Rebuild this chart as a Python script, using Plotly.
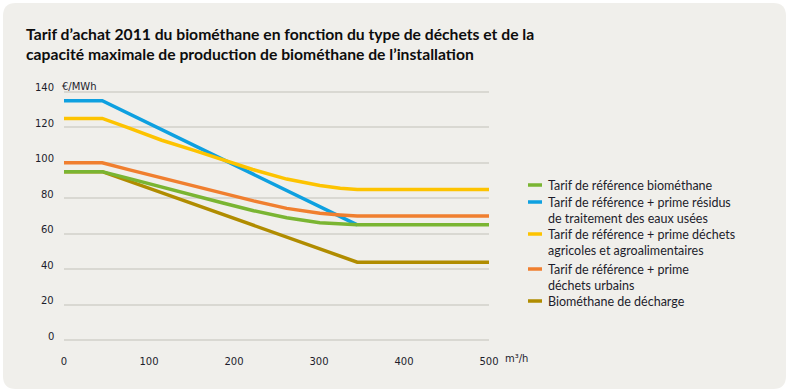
import plotly.graph_objects as go

# ---- data ----
series_names = [
    "Tarif de référence biométhane",
    "Tarif de référence + prime résidus<br>de traitement des eaux usées",
    "Tarif de référence + prime déchets<br>agricoles et agroalimentaires",
    "Tarif de référence + prime<br>déchets urbains",
    "Biométhane de décharge",
]
series_colors = ["#7ab532", "#0ea0e0", "#fdc300", "#f07f2f", "#b08c00"]

x_green = [0, 45, 76, 115, 154, 187, 223, 262, 301, 325, 345, 500]
y_green = [95, 95, 91.2, 86.2, 81.5, 77.3, 73, 69, 66.2, 65.4, 65, 65]

x_blue = [0, 45, 345]
y_blue = [135, 135, 65]

x_yellow = [0, 45, 76, 115, 154, 190, 222, 262, 301, 325, 345, 500]
y_yellow = [125, 125, 119.6, 112.7, 106.8, 101.3, 96.2, 90.8, 87.2, 85.7, 85, 85]

x_orange = [0, 45, 76, 115, 154, 185, 223, 262, 301, 325, 345, 500]
y_orange = [100, 100, 96.1, 91.3, 86.9, 83, 78.5, 74.3, 71.5, 70.6, 70, 70]

x_brown = [0, 45, 345, 500]
y_brown = [95, 95, 44, 44]

x_ticks = [0, 100, 200, 300, 400, 500]
y_ticks = [0, 20, 40, 60, 80, 100, 120, 140]

title_text = ("Tarif d’achat 2011 du biométhane en fonction du type de déchets et de la<br>"
              "capacité maximale de production de biométhane de l’installation")
y_unit = "€/MWh"
x_unit = "m³/h"

# ---- layout geometry ----
W, H = 791, 390
PL, PR, PT, PB = 64, 489, 90, 342   # plot area pixel bounds (y range -1..141)
Y0, Y1 = -1, 141


def px_x(p):
    return (p - PL) / (PR - PL)


def px_y(p):
    return (PB - p) / (PB - PT)


fig = go.Figure()
order = [1, 2, 3, 4, 0]
xs = [x_green, x_blue, x_yellow, x_orange, x_brown]
ys = [y_green, y_blue, y_yellow, y_orange, y_brown]
for i in order:
    fig.add_trace(go.Scatter(x=xs[i], y=ys[i], mode="lines", name=series_names[i],
                             showlegend=False,
                             line=dict(color=series_colors[i], width=3.5),
                             hoverinfo="skip"))

# rounded panel background
x0, x1, y0, y1, r = 3, 786, 3, 389, 13
path = (
    f"M {px_x(x0 + r)} {px_y(y0)} L {px_x(x1 - r)} {px_y(y0)} "
    f"Q {px_x(x1)} {px_y(y0)} {px_x(x1)} {px_y(y0 + r)} "
    f"L {px_x(x1)} {px_y(y1 - r)} Q {px_x(x1)} {px_y(y1)} {px_x(x1 - r)} {px_y(y1)} "
    f"L {px_x(x0 + r)} {px_y(y1)} Q {px_x(x0)} {px_y(y1)} {px_x(x0)} {px_y(y1 - r)} "
    f"L {px_x(x0)} {px_y(y0 + r)} Q {px_x(x0)} {px_y(y0)} {px_x(x0 + r)} {px_y(y0)} Z"
)
shapes = [dict(type="path", path=path, xref="paper", yref="paper",
               fillcolor="#f0efeb", line=dict(width=0), layer="below")]

tick_font = dict(family="DejaVu Sans", size=10, color="#1d1d2b")
legend_font = dict(family="Lato", size=12.5, color="#1d1d2b")

annotations = []
for v in y_ticks:
    annotations.append(dict(x=0, y=v, xref="x", yref="y", text=str(v), showarrow=False,
                            xanchor="right", yanchor="middle", xshift=-8, yshift=4,
                            font=tick_font))
annotations.append(dict(x=px_x(60), y=140, xref="paper", yref="y", text=y_unit,
                        showarrow=False, xanchor="left", yanchor="middle", yshift=5,
                        font=tick_font))
annotations.append(dict(x=px_x(503), y=px_y(358), xref="paper", yref="paper", text=x_unit,
                        showarrow=False, xanchor="left", yanchor="middle",
                        font=tick_font))

# manual legend
legend_first_y = [184, 201, 233, 268, 300]
for name, col, ly in zip(series_names, series_colors, legend_first_y):
    shapes.append(dict(type="line", xref="paper", yref="paper",
                       x0=px_x(528), x1=px_x(542), y0=px_y(ly + 1), y1=px_y(ly + 1),
                       line=dict(color=col, width=3.5)))
    annotations.append(dict(x=px_x(546), y=px_y(ly - 8), xref="paper", yref="paper",
                            text=name, showarrow=False, xanchor="left", yanchor="top",
                            align="left", font=legend_font))

fig.update_layout(
    width=W, height=H,
    margin=dict(l=PL, r=W - PR, t=PT, b=H - PB, pad=0),
    paper_bgcolor="white",
    plot_bgcolor="rgba(0,0,0,0)",
    title=dict(text=title_text, x=26 / W, xanchor="left", xref="container",
               y=1 - 40 / H, yanchor="top", yref="container",
               font=dict(family="Lato", size=15.7, color="#0d0d0d", weight="bold")),
    xaxis=dict(range=[0, 500], tickvals=x_ticks, ticktext=[str(t) for t in x_ticks],
               showgrid=False, zeroline=False, showline=False,
               ticks="outside", ticklen=10, tickcolor="rgba(0,0,0,0)",
               tickfont=tick_font, fixedrange=True),
    yaxis=dict(range=[Y0, Y1], tickvals=y_ticks, showticklabels=False,
               showgrid=True, gridcolor="#d9d8d2", gridwidth=1.5,
               zeroline=False, showline=False, fixedrange=True),
    showlegend=False,
    annotations=annotations,
    shapes=shapes,
)

fig.write_html("out.html", config={"displayModeBar": False},
               post_script="document.body.style.margin='0';document.body.style.overflow='hidden';")
